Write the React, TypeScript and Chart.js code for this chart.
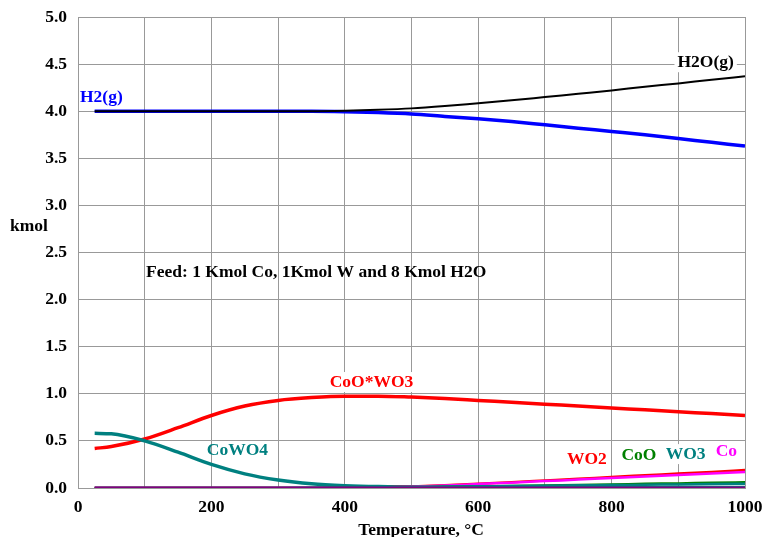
import React, { useEffect, useRef } from "react";
import { Chart, registerables } from "chart.js";

Chart.register(...registerables);

const temps = [25, 50, 100, 150, 200, 250, 300, 350, 400, 450, 500, 550, 600, 650, 700, 750, 800, 850, 900, 950, 1000];
const h2 = [4.0, 4.0, 4.0, 4.0, 4.0, 4.0, 4.0, 4.0, 3.995, 3.985, 3.97, 3.945, 3.92, 3.89, 3.855, 3.82, 3.785, 3.75, 3.71, 3.67, 3.63];
const h2o = [4.0, 4.0, 4.0, 4.0, 4.0, 4.0, 4.0, 4.0, 4.005, 4.015, 4.03, 4.055, 4.085, 4.115, 4.15, 4.185, 4.22, 4.26, 4.295, 4.335, 4.37];
const cooWo3 = [0.42, 0.44, 0.52, 0.64, 0.77, 0.87, 0.93, 0.96, 0.975, 0.975, 0.965, 0.95, 0.93, 0.91, 0.89, 0.87, 0.85, 0.83, 0.81, 0.79, 0.77];
const cowo4 = [0.58, 0.575, 0.5, 0.38, 0.25, 0.15, 0.085, 0.045, 0.025, 0.015, 0.012, 0.01, 0.009, 0.008, 0.007, 0.006, 0.006, 0.005, 0.005, 0.005, 0.005];
const wo2 = [0, 0, 0, 0, 0, 0, 0, 0, 0.002, 0.006, 0.015, 0.028, 0.045, 0.062, 0.08, 0.098, 0.117, 0.135, 0.153, 0.171, 0.19];
const co = [0, 0, 0, 0, 0, 0, 0, 0, 0.002, 0.006, 0.014, 0.026, 0.042, 0.057, 0.073, 0.089, 0.105, 0.121, 0.137, 0.153, 0.17];
const coo = [0, 0, 0, 0, 0, 0, 0, 0.001, 0.003, 0.005, 0.008, 0.012, 0.017, 0.022, 0.027, 0.033, 0.038, 0.044, 0.049, 0.055, 0.06];
const wo3 = [0, 0, 0, 0, 0, 0, 0.001, 0.003, 0.006, 0.009, 0.012, 0.015, 0.018, 0.021, 0.024, 0.028, 0.031, 0.035, 0.038, 0.042, 0.045];
const other = [0, 0, 0, 0, 0, 0, 0, 0, 0, 0, 0, 0, 0, 0, 0, 0, 0, 0, 0, 0, 0];

const xTicks = [0, 200, 400, 600, 800, 1000];
const yTicks = [0, 0.5, 1.0, 1.5, 2.0, 2.5, 3.0, 3.5, 4.0, 4.5, 5.0];

const FONT = '"Liberation Serif", "Times New Roman", serif';
const FSIZE = 17.5;

type Label = { text: string; x: number; y: number; color: string; align: CanvasTextAlign; bg: boolean };
const labels: Label[] = [
  { text: "H2(g)", x: 3, y: 4.15, color: "#0000ff", align: "left", bg: false },
  { text: "H2O(g)", x: 941, y: 4.52, color: "#000000", align: "center", bg: true },
  { text: "Feed: 1 Kmol Co, 1Kmol W and 8 Kmol H2O", x: 102, y: 2.29, color: "#000000", align: "left", bg: false },
  { text: "CoO*WO3", x: 440, y: 1.125, color: "#ff0000", align: "center", bg: true },
  { text: "CoWO4", x: 239, y: 0.4, color: "#008080", align: "center", bg: false },
  { text: "WO2", x: 763, y: 0.3, color: "#ff0000", align: "center", bg: true },
  { text: "CoO", x: 841, y: 0.34, color: "#008000", align: "center", bg: true },
  { text: "WO3", x: 911, y: 0.36, color: "#008080", align: "center", bg: true },
  { text: "Co", x: 972, y: 0.39, color: "#ff00ff", align: "center", bg: true },
];

const textPlugin = {
  id: "texts",
  afterDatasetsDraw(chart: any) {
    const ctx = chart.ctx;
    const xs = chart.scales.x;
    const ys = chart.scales.y;
    ctx.save();
    ctx.font = `bold ${FSIZE}px ${FONT}`;
    ctx.textBaseline = "middle";
    for (const l of labels) {
      const px = xs.getPixelForValue(l.x);
      const py = ys.getPixelForValue(l.y);
      ctx.textAlign = l.align;
      const w = ctx.measureText(l.text).width;
      if (l.bg) {
        let left = px;
        if (l.align === "center") left = px - w / 2;
        if (l.align === "right") left = px - w;
        ctx.fillStyle = "#ffffff";
        ctx.fillRect(left - 3, py - 10, w + 6, 20);
      }
      ctx.fillStyle = l.color;
      ctx.fillText(l.text, px, py);
    }
    // axis titles
    ctx.fillStyle = "#000000";
    ctx.textAlign = "left";
    ctx.fillText("kmol", 10, 226);
    ctx.textAlign = "center";
    ctx.fillText("Temperature, °C", 421, 530);
    ctx.restore();
  },
};

function mk(label: string, data: number[], color: string, width: number) {
  return {
    label,
    data: temps.map((t, i) => ({ x: t, y: data[i] })),
    borderColor: color,
    backgroundColor: color,
    borderWidth: width,
    pointRadius: 0,
    tension: 0,
    cubicInterpolationMode: "monotone" as const,
  };
}

export default function App() {
  const ref = useRef<HTMLCanvasElement>(null);
  useEffect(() => {
    const chart = new Chart(ref.current!, {
      type: "line",
      data: {
        datasets: [
          mk("Other", other, "#800080", 3),
          mk("WO3", wo3, "#008080", 2.5),
          mk("CoO", coo, "#008000", 2.5),
          mk("Co", co, "#ff00ff", 2.5),
          mk("WO2", wo2, "#ff0000", 2.5),
          mk("CoWO4", cowo4, "#008080", 3.5),
          mk("CoO*WO3", cooWo3, "#ff0000", 3.5),
          mk("H2O(g)", h2o, "#000000", 2),
          mk("H2(g)", h2, "#0000ff", 3.5),
        ],
      },
      options: {
        responsive: false,
        animation: false,
        layout: { padding: { top: 17, right: 19, left: 0, bottom: 0 } },
        plugins: { legend: { display: false }, tooltip: { enabled: false } },
        scales: {
          x: {
            type: "linear",
            min: 0,
            max: 1000,
            afterBuildTicks: (s: any) => {
              const t = [];
              for (let v = 0; v <= 1000; v += 100) t.push({ value: v });
              s.ticks = t;
            },
            afterFit: (s: any) => {
              s.height = 49;
              s.paddingLeft = 0;
              s.paddingRight = 0;
            },
            ticks: {
              autoSkip: false,
              maxRotation: 0,
              padding: 9,
              color: "#000",
              font: { family: FONT, size: FSIZE, weight: "bold" },
              callback: (v: any) => (xTicks.includes(v) ? String(v) : ""),
            },
            grid: { color: "#999999", drawTicks: false, lineWidth: 1 },
            border: { color: "#999999" },
          },
          y: {
            type: "linear",
            min: 0,
            max: 5,
            afterBuildTicks: (s: any) => {
              s.ticks = yTicks.map((v) => ({ value: v }));
            },
            afterFit: (s: any) => {
              s.width = 78;
              s.paddingTop = 0;
              s.paddingBottom = 0;
            },
            ticks: {
              padding: 11,
              color: "#000",
              font: { family: FONT, size: FSIZE, weight: "bold" },
              callback: (v: any) => Number(v).toFixed(1),
            },
            grid: { color: "#999999", drawTicks: false, lineWidth: 1 },
            border: { color: "#999999" },
          },
        },
      },
      plugins: [textPlugin],
    });
    return () => chart.destroy();
  }, []);
  return (
    <div style={{ position: "fixed", left: 0, top: 0, width: 764, height: 537, background: "#fff" }}>
      <canvas ref={ref} width={764} height={537} />
    </div>
  );
}
